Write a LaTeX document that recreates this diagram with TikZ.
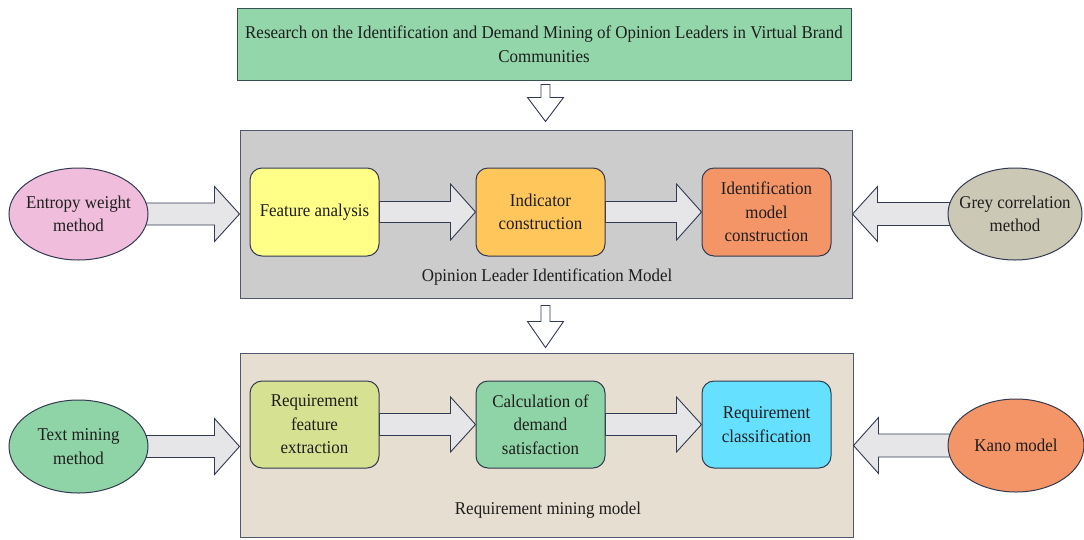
\documentclass[tikz,border=0pt]{standalone}
\usepackage{fontspec}
\setmainfont[FakeStretch=0.94]{Liberation Serif}
\usetikzlibrary{calc,shapes.geometric}
\definecolor{titlegreen}{RGB}{146,214,170}
\definecolor{grayfill}{RGB}{204,204,204}
\definecolor{beigefill}{RGB}{230,222,208}
\definecolor{pinkfill}{RGB}{240,190,220}
\definecolor{yellowfill}{RGB}{255,255,136}
\definecolor{orangefill}{RGB}{255,198,92}
\definecolor{salmonfill}{RGB}{244,149,104}
\definecolor{greyellfill}{RGB}{204,200,182}
\definecolor{mintfill}{RGB}{143,212,166}
\definecolor{olivefill}{RGB}{214,226,145}
\definecolor{cyanfill}{RGB}{102,224,255}
\definecolor{arrowfill}{RGB}{230,230,232}
\definecolor{bordc}{RGB}{50,58,82}
\definecolor{outerbord}{RGB}{80,88,110}
\definecolor{titlebord}{RGB}{55,80,80}
\definecolor{txt}{RGB}{30,30,30}
\pgfdeclarelayer{bg}
\pgfdeclarelayer{mid}
\pgfsetlayers{bg,mid,main}
\tikzset{
  every node/.style={font=\fontsize{18}{23.5}\selectfont, text=txt},
  outerbox/.style={draw=outerbord, line width=1pt, minimum width=#1, inner sep=0pt},
  stepbox/.style={draw=bordc, line width=1pt, rounded corners=12pt, minimum width=129pt, minimum height=88pt, align=center, inner sep=2pt},
  oval/.style={ellipse, draw=bordc, line width=1pt, align=center, inner sep=-10pt},
  blk/.style={draw=bordc, line width=0.9pt, fill=arrowfill, line join=miter},
  rblk/.style n args={3}{blk, to path={let \p1=(\tikztostart), \p2=(\tikztotarget) in
    (\x1,\y1+#1) -- (\x2-#3,\y1+#1) -- (\x2-#3,\y1+#2) -- (\x2,\y1) -- (\x2-#3,\y1-#2) -- (\x2-#3,\y1-#1) -- (\x1,\y1-#1) -- cycle}},
  lblk/.style n args={3}{blk, to path={let \p1=(\tikztostart), \p2=(\tikztotarget) in
    (\x1,\y1+#1) -- (\x2+#3,\y1+#1) -- (\x2+#3,\y1+#2) -- (\x2,\y1) -- (\x2+#3,\y1-#2) -- (\x2+#3,\y1-#1) -- (\x1,\y1-#1) -- cycle}},
  dblk/.style n args={3}{draw=bordc, line width=0.9pt, fill=white, to path={let \p1=(\tikztostart), \p2=(\tikztotarget) in
    (\x2-#1,\y1) -- (\x2-#1,\y2+#3) -- (\x2-#2,\y2+#3) -- (\x2,\y2) -- (\x2+#2,\y2+#3) -- (\x2+#1,\y2+#3) -- (\x2+#1,\y1) -- cycle}},
}
\begin{document}
\begin{tikzpicture}[x=1pt,y=-1pt]
\begin{pgfonlayer}{bg}
\fill[white] (0,0) rectangle (1084,539);
\node[outerbox=612pt, minimum height=168pt, fill=grayfill] (gray) at (546,214) {};
\node[outerbox=613pt, minimum height=184pt, fill=beigefill] (beige) at (546.5,445) {};
\end{pgfonlayer}
\useasboundingbox (0,0) rectangle (1084,539);

% title
\node[draw=titlebord, line width=1pt, fill=titlegreen, minimum width=614pt, minimum height=72pt, align=center, inner sep=0pt, font=\fontsize{18}{24}\selectfont] (title) at (544,44)
  {Research on the Identification and Demand Mining of Opinion Leaders in Virtual Brand\\Communities};

% upper model
\node[stepbox, fill=yellowfill] (fa) at (314.5,212) {Feature analysis};
\node[stepbox, fill=orangefill] (ind) at (540.5,212) {Indicator\\construction};
\node[stepbox, fill=salmonfill] (idm) at (766.5,212) {Identification\\model\\construction};
\node (lab1) at (547,277) {Opinion Leader Identification Model};
\node[oval, fill=pinkfill, minimum width=139pt, minimum height=92pt] (ent) at (78.5,214) {Entropy weight\\method};
\node[oval, fill=greyellfill, minimum width=134pt, minimum height=92pt] (grey) at (1015,214) {Grey correlation\\method};

% lower model
\node[stepbox, minimum height=87pt, fill=olivefill] (rfe) at (314.5,424.5) {Requirement\\feature\\extraction};
\node[stepbox, minimum height=87pt, fill=mintfill] (calc) at (540.5,424.5) {Calculation of\\demand\\satisfaction};
\node[stepbox, minimum height=87pt, fill=cyanfill] (rc) at (766.5,424.5) {Requirement\\classification};
\node (lab2) at (548,510) {Requirement mining model};
\node[oval, fill=mintfill, minimum width=139pt, minimum height=93pt] (tm) at (78.5,446.5) {Text mining\\method};
\node[oval, fill=salmonfill, minimum width=136pt, minimum height=93pt] (kano) at (1016,445.5) {Kano model};

% connectors
\begin{pgfonlayer}{mid}
\draw[dblk={4.5pt}{18pt}{24pt}] ([yshift=-4pt]title.south) to ([yshift=8pt]gray.north -| 545.5,0);
\draw[dblk={4.5pt}{18pt}{26pt}] ([yshift=-7pt]gray.south) to ([yshift=5pt]beige.north -| 545.5,0);

\draw[rblk={11pt}{27.5pt}{25pt}] ([xshift=-4pt]ent.east) to (gray.west |- ent.east);
\draw[rblk={10.5pt}{28pt}{25pt}] (fa.east) to (ind.west);
\draw[rblk={10.5pt}{28pt}{25pt}] (ind.east) to (idm.west);
\draw[lblk={11.5pt}{27.5pt}{25pt}] ([xshift=4pt]grey.west) to (gray.east |- grey.west);

\draw[rblk={11pt}{28pt}{25pt}] ([xshift=-4pt]tm.east) to (beige.west |- tm.east);
\draw[rblk={11pt}{27.5pt}{25pt}] (rfe.east) to (calc.west);
\draw[rblk={11pt}{27.5pt}{25pt}] (calc.east) to (rc.west);
\draw[lblk={11.5pt}{28pt}{25pt}] ([xshift=4pt]kano.west) to (beige.east |- kano.west);
\end{pgfonlayer}
\end{tikzpicture}
\end{document}
